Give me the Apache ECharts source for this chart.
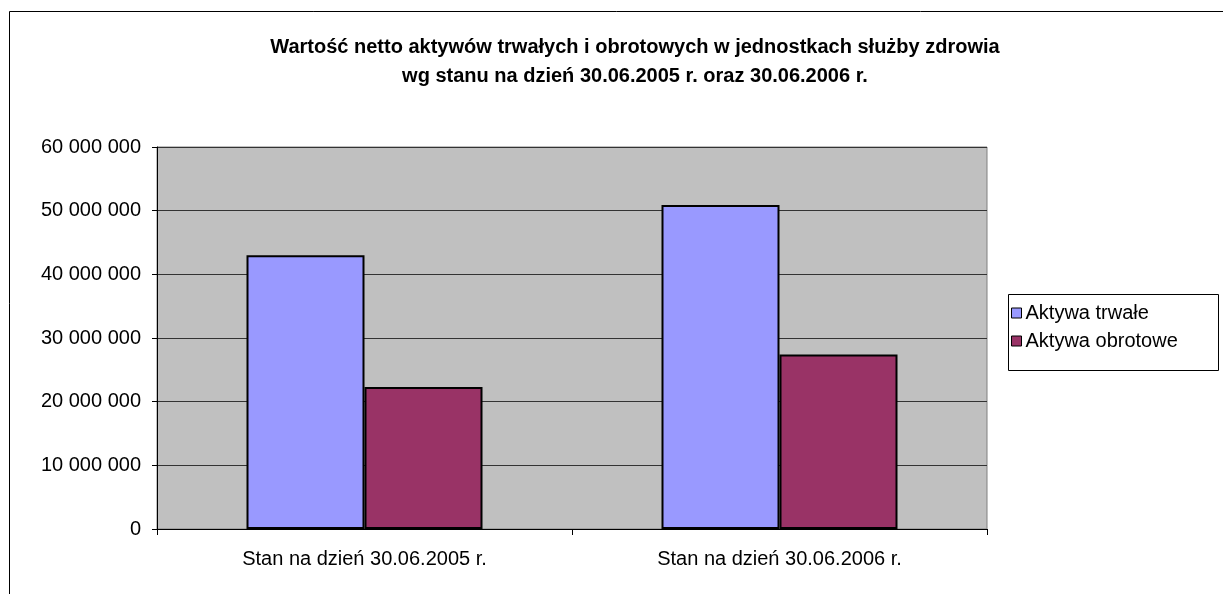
<!DOCTYPE html>
<html>
<head>
<meta charset="utf-8">
<script src="https://cdn.jsdelivr.net/npm/echarts@6/dist/echarts.min.js"></script>
<style>
  html, body { margin: 0; padding: 0; background: #fff; }
  #chart { width: 1223px; height: 594px; }
</style>
</head>
<body>
<div id="chart"></div>
<script>
// kategorie i wartości
const categories = ['Stan na dzień 30.06.2005 r.', 'Stan na dzień 30.06.2006 r.'];
const seriesNames = ['Aktywa trwałe', 'Aktywa obrotowe'];
const aktywaTrwale = [43000000, 50900000];
const aktywaObrotowe = [22300000, 27400000];
const seriesColors = ['#9999FF', '#993366'];

const chart = echarts.init(document.getElementById('chart'));
const font = 'Liberation Sans, Arial, sans-serif';

const fmt = v => String(v).replace(/\B(?=(\d{3})+(?!\d))/g, ' ');

const option = {
  animation: false,
  backgroundColor: '#fff',
  textStyle: { fontFamily: font },
  title: {
    text: 'Wartość netto aktywów trwałych i obrotowych w jednostkach służby zdrowia\nwg stanu na dzień 30.06.2005 r. oraz 30.06.2006 r.',
    left: 630,
    top: 28,
    textAlign: 'center',
    textStyle: { fontSize: 20, fontWeight: 'bold', color: '#000', lineHeight: 29, fontFamily: font }
  },
  graphic: [{
    type: 'rect',
    shape: { x: 9.5, y: 11.5, width: 1240, height: 620 },
    style: { fill: 'none', stroke: '#000', lineWidth: 1 },
    silent: true,
    z: -1
  }, {
    type: 'rect',
    shape: { x: 157, y: 147, width: 830, height: 382 },
    style: { fill: '#C0C0C0', stroke: '#808080', lineWidth: 1 },
    silent: true,
    z: -1
  }, {
    // ramka legendy
    type: 'rect',
    shape: { x: 1008.5, y: 294.5, width: 210, height: 76 },
    style: { fill: '#fff', stroke: '#000', lineWidth: 1 },
    silent: true,
    z: -1
  }],
  legend: {
    data: seriesNames,
    orient: 'vertical',
    left: 1011,
    top: 303,
    padding: 0,
    itemGap: 8,
    itemWidth: 10,
    itemHeight: 10,
    icon: 'rect',
    itemStyle: { borderColor: '#000', borderWidth: 1 },
    textStyle: { fontSize: 20, color: '#000', fontFamily: font, padding: [0, 0, 0, -1] }
  },
  grid: { left: 157, top: 147, width: 830, height: 382 },
  xAxis: {
    type: 'category',
    data: categories,
    axisLine: { lineStyle: { color: '#000', width: 1 } },
    axisTick: { show: true, length: 6, lineStyle: { color: '#000' } },
    axisLabel: { fontSize: 20, color: '#000', margin: 20, fontFamily: font }
  },
  yAxis: {
    type: 'value',
    min: 0,
    max: 60000000,
    interval: 10000000,
    axisLine: { show: true, lineStyle: { color: '#000', width: 1 } },
    axisTick: { show: true, length: 5, lineStyle: { color: '#000' } },
    axisLabel: { fontSize: 20, color: '#000', margin: 16, fontFamily: font, formatter: fmt },
    splitLine: { lineStyle: { color: '#333', width: 1 } }
  },
  series: [{
    name: seriesNames[0],
    type: 'bar',
    data: aktywaTrwale,
    barWidth: 118,
    barGap: '0%',
    itemStyle: { color: seriesColors[0], borderColor: '#000', borderWidth: 2 }
  }, {
    name: seriesNames[1],
    type: 'bar',
    data: aktywaObrotowe,
    barWidth: 118,
    barGap: '0%',
    itemStyle: { color: seriesColors[1], borderColor: '#000', borderWidth: 2 }
  }]
};

chart.setOption(option);
window.addEventListener('resize', () => chart.resize());
</script>
</body>
</html>
